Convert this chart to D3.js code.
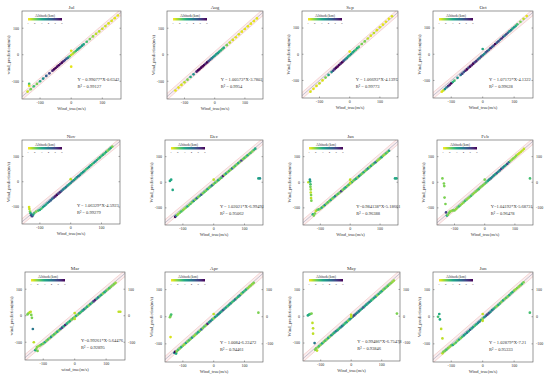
<!DOCTYPE html>
<html>
<head>
<meta charset="utf-8">
<script src="https://cdn.jsdelivr.net/npm/d3@7"></script>
<style>
body { margin: 0; background: #fff; }
text { font-family: "Liberation Serif", "DejaVu Serif", serif; fill: #333; }
</style>
</head>
<body>
<div id="chart"></div>
<script>
// panel names, fit texts
var months = ["Jul", "Aug", "Sep", "Oct", "Nov", "Dec", "Jan", "Feb", "Mar", "Apr", "May", "Jun"];
var fitLabels = ["Y = 0.99077*X-0.6342", "Y = 1.00573*X-3.7802", "Y = 1.06693*X-4.1397", "Y = 1.07172*X-4.1322",
                 "Y = 1.06329*X-4.5923", "Y = 1.02021*X-6.99491", "Y=0.984138*X-5.18661", "Y=1.04192*X-5.68731",
                 "Y=0.99261*X-5.64476", "Y = 1.0084-6.22472", "Y = 0.99486*X-6.75478", "Y = 1.02879*X-7.21"];
var r2Labels = ["R\u00b2 = 0.99127", "R\u00b2 = 0.9954", "R\u00b2 = 0.99773", "R\u00b2 = 0.99628",
                "R\u00b2 = 0.99279", "R\u00b2 = 0.95062", "R\u00b2 = 0.96388", "R\u00b2 = 0.96478",
                "R\u00b2 = 0.92895", "R\u00b2 = 0.94461", "R\u00b2 = 0.93846", "R\u00b2 = 0.95333"];
var xLabels = ["Wind_true(m/s)", "Wind_true(m/s)", "Wind_true(m/s)", "Wind_true(m/s)",
               "Wind_true(m/s)", "Wind_true(m/s)", "Wind_true(m/s)", "Wind_true(m/s)",
               "wind_true(m/s)", "Wind_true(m/s)", "Wind_true(m/s)", "Wind_true(m/s)"];
var yLabels = ["wind_prediction(m/s)", "Wind_prediction(m/s)", "Wind_prediction(m/s)", "Wind_prediction(m/s)",
               "Wind_prediction(m/s)", "Wind_prediction(m/s)", "Wind_prediction(m/s)", "Wind_prediction(m/s)",
               "wind_prediction(m/s)", "Wind_prediction(m/s)", "Wind_prediction(m/s)", "Wind_prediction(m/s)"];
var axisTicks = [-100, 0, 100];
var altTicks = [1, 2, 3, 4, 5, 6];
var altLabel = "Altitude(km)";

// [true, predicted, altitude km]
var julPoints = [[-140,-139,1.4],[-130,-130,2],[-120,-119,2.5],[-110,-110,2],[-100,-100,3],[-90,-90,3.5],[-80,-80,4.5],[-70,-70,5],[-60,-60,5.5],[-55,-55,6],[-50,-50,6],[-45,-45,5.8],[-40,-40,6],[-35,-35,5.5],[-30,-30,6],[-25,-25,5.5],[-20,-20,5],[-15,-15,4.5],[-10,-11,4],[-5,-6,2.5],[0,-1,1.5],[5,4,1.5],[10,9,2],[15,14,2.5],[20,19,3],[25,24,3.5],[30,29,3],[35,34,3.5],[40,39,3],[50,49,2.5],[60,59,2],[70,69,1.8],[80,79,1.5],[90,88,1.5],[100,98,1.4],[110,108,1.4],[120,118,1.3],[130,128,1.3],[140,138,1.2],[150,148,1.2],
  [-135,-110,2.5],[-135,-117,1.2],[0,15,1.2],[0,-45,1.2]];
var augPoints = [[-130,-135,1.2],[-120,-124,1.2],[-110,-114,1.3],[-100,-104,1.5],[-90,-94,2],[-80,-84,3],[-70,-74,3.5],[-60,-64,5.5],[-55,-59,6],[-50,-54,6],[-45,-49,6],[-40,-44,6],[-35,-39,6],[-30,-34,5.5],[-25,-29,6],[-20,-24,5],[-15,-19,4.5],[-10,-14,4],[-5,-9,3.5],[0,-4,3.5],[5,1,3],[10,6,3.5],[15,11,3],[20,16,3],[25,21,2.5],[30,26,3],[40,36,2],[50,46,1.5],[60,56,1.3],[70,66,1.2],[80,77,1.3],[90,87,1.2],[100,97,1.2],[110,107,1.2],[120,117,1.2],[130,127,1.2],[140,137,1.2]];
var sepPoints = [[-130,-143,1.3],[-120,-132,1.2],[-110,-121,1.3],[-100,-111,1.5],[-90,-100,1.3],[-80,-89,2],[-70,-79,3],[-60,-68,3.5],[-55,-63,5],[-50,-57,5.5],[-45,-52,6],[-40,-47,6],[-35,-41,6],[-30,-36,5.5],[-25,-31,6],[-20,-25,5],[-15,-20,4],[-10,-15,3.5],[-5,-9,3],[0,-4,3],[5,1,3.5],[10,7,3],[15,12,3],[20,17,2.5],[25,23,3],[30,28,2.5],[40,39,2],[50,49,2],[60,60,1.5],[70,71,1.3],[80,81,1.5],[90,92,1.3],[100,103,1.3],[110,113,1.2],[120,124,1.2],[130,135,1.2],[140,145,1.3],
  [0,10,1.2]];
var octPoints = [[-130,-143,1.2],[-125,-138,1.5],[-120,-133,3.5],[-115,-127,4],[-110,-122,5],[-105,-117,5.5],[-100,-111,6],[-95,-106,3],[-90,-101,2.5],[-80,-90,3.5],[-70,-79,4],[-65,-74,5],[-60,-68,4.5],[-55,-63,5.5],[-50,-58,6],[-45,-52,5],[-40,-47,6],[-35,-42,5.5],[-30,-36,6],[-25,-31,5],[-20,-26,5.5],[-15,-20,4.5],[-10,-15,4],[-5,-9,5],[0,-4,4],[5,1,3.5],[10,7,4.5],[15,12,5],[20,17,4],[25,23,5.5],[30,28,4.5],[35,33,5],[40,39,6],[45,44,4.5],[50,49,5],[55,55,4],[60,60,5.5],[65,66,5],[70,71,4],[75,76,5],[80,82,4.5],[85,87,3.5],[90,92,4],[95,98,3],[100,103,3.5],[105,108,3],[110,114,2.5],[120,124,2],[130,135,1.5],[140,146,1.2],
  [0,20,3]];
var novPoints = [[-135,-100,1.3],[-134,-108,1.5],[-132,-118,2],[-130,-125,3],[-128,-132,4.5],[-125,-136,5],[-122,-130,3.5],[-118,-124,2.5],[-112,-118,2],
  [-105,-114,2.5],[-100,-111,3],[-95,-106,2.5],[-90,-100,3],[-85,-95,3.5],[-80,-90,3],[-75,-84,3.5],[-70,-79,4],[-65,-74,4.5],[-60,-68,4],[-55,-63,5],[-50,-58,5.5],[-45,-52,6],[-40,-47,5],[-35,-42,5.5],[-30,-37,4.5],[-25,-31,4],[-20,-26,3.5],[-15,-21,4],[-10,-15,3.5],[-5,-10,3],[0,-5,3.5],[5,1,4],[10,6,3.5],[15,11,3],[20,17,3.5],[25,22,4],[30,27,3.5],[35,33,3],[40,38,3.5],[45,43,3],[50,49,2.5],[55,54,3],[60,59,3.5],[65,65,3],[70,70,2.5],[75,75,3],[80,80,3.5],[85,86,3],[90,91,2.5],[95,96,3],[100,102,2.5],[105,107,3],[110,112,2.5],[115,118,3],[120,123,2],[125,128,2.5],[130,134,3],[135,139,2],
  [0,10,1.5]];
var decPoints = [[-125,-135,6],[-122,-131,4],[-118,-128,2],[-115,-124,1.8],[-110,-119,2],[-105,-114,2.5],[-100,-109,2],[-95,-104,1.8],[-90,-99,2],[-85,-94,3],[-80,-89,2],[-75,-84,2.5],[-70,-78,2],[-65,-73,3.5],[-60,-68,2],[-55,-63,4],[-50,-58,2],[-45,-53,2.5],[-40,-48,4.5],[-35,-43,2],[-30,-38,2.5],[-25,-33,2],[-20,-27,3],[-15,-22,2],[-10,-17,2.5],[-5,-12,4],[0,-7,2],[5,-2,2.5],[10,3,2],[15,8,3],[20,13,2],[25,18,2.5],[30,24,5.5],[35,29,2],[40,34,3],[45,39,2],[50,44,2.5],[55,49,2],[60,54,4],[65,59,2],[70,64,2.5],[75,70,2],[80,75,3],[85,80,2],[90,85,5],[95,90,2],[100,95,2.5],[105,100,2],[110,105,3],[115,110,2],[120,115,2.5],[125,120,2],[130,126,2.5],[135,131,3],
  [-142,5,3],[-138,10,3],[-133,-30,3],[145,15,3],[150,15,3.5],[0,10,1.5]];
var janPoints = [[-125,-125,3],[-122,-130,2],[-118,-122,2],[-115,-112,1.5],[-110,-108,2],[-105,-106,2.5],[-100,-104,2],[-95,-99,3],[-90,-94,2],[-85,-89,3.5],[-80,-84,2],[-75,-79,2.5],[-70,-74,2],[-65,-69,3],[-60,-64,2],[-55,-59,2.5],[-50,-54,4],[-45,-49,2],[-40,-45,2.5],[-35,-40,2],[-30,-35,5],[-25,-30,2],[-20,-25,2.5],[-15,-20,3],[-10,-15,2],[-5,-10,2.5],[0,-5,2],[5,0,3],[10,5,2],[15,10,2.5],[20,14,3],[25,19,2],[30,24,3.5],[35,29,2.5],[40,34,2],[45,39,3],[50,44,2],[55,49,2.5],[60,54,3.5],[65,59,2],[70,64,3],[75,69,2],[80,74,2.5],[85,78,4],[90,83,2],[95,88,1.8],[100,93,2],[105,98,3],[110,103,2],[115,108,1.8],[120,113,2.5],[125,118,2],[130,123,3],
  [-140,0,1.5],[-135,10,3.5],[-134,3,3],[-133,-8,2.5],[-133,-18,2],[-132,-28,1.8],[-132,-40,1.5],[-131,-50,2],[-131,-62,1.5],[-130,-72,2],[150,15,3],[155,15,3],[0,10,1.5],[0,-2,1.5]];
var febPoints = [[-128,-118,5],[-125,-130,3],[-122,-127,2],[-118,-120,2],[-115,-115,2],[-110,-112,1.8],[-105,-110,2],[-100,-110,2],[-95,-105,1.8],[-90,-99,2],[-85,-94,2.5],[-80,-89,2],[-75,-84,1.8],[-70,-79,2],[-65,-73,2.5],[-60,-68,2],[-55,-63,1.8],[-50,-58,2],[-45,-53,2.5],[-40,-47,2],[-35,-42,1.8],[-30,-37,2],[-25,-32,2],[-20,-27,2.5],[-15,-21,2],[-10,-16,2],[-5,-11,2],[0,-6,2],[5,-1,2.5],[10,5,3],[15,10,3.5],[20,15,4],[25,20,3.5],[30,26,4],[35,31,3],[40,36,4.5],[45,41,3.5],[50,46,4],[55,52,5],[60,57,3.5],[65,62,4],[70,67,3],[75,72,5],[80,78,4],[85,83,2],[90,88,1.8],[95,93,2],[100,98,1.8],[105,104,2],[110,109,1.5],[115,114,1.5],[120,119,1.5],[125,124,1.5],[130,130,1.5],
  [-140,15,2],[-135,-5,2],[-134,-15,2],[-133,-60,2],[-130,-85,2],[150,15,2.5],[0,10,2]];
var marPoints = [[-125,-130,3],[-122,-125,2],[-120,-118,2],[-118,-133,2],[-115,-115,1.8],[-110,-112,2],[-105,-108,2.5],[-100,-105,2],[-95,-100,3],[-90,-95,2],[-85,-90,2.5],[-80,-85,2],[-75,-80,3.5],[-70,-75,2],[-65,-70,2.5],[-60,-65,2],[-55,-60,3],[-50,-55,2],[-45,-50,4],[-40,-45,5],[-35,-40,3],[-30,-35,5.5],[-25,-30,3],[-20,-25,2.5],[-15,-20,3],[-10,-15,2],[-5,-10,2.5],[0,-5,2],[5,0,3],[10,4,2],[15,9,3],[20,14,2.5],[25,19,3],[30,24,4],[35,29,2.5],[40,34,3],[45,39,2],[50,44,3.5],[55,49,2.5],[60,54,5],[65,59,5.5],[70,64,3],[75,69,4],[80,74,2.5],[85,79,3],[90,84,2],[95,89,3],[100,94,2.5],[105,99,2],[110,104,2.5],[115,109,2],[120,114,2],[125,119,2],[130,124,1.8],
  [-150,5,2],[-147,9,2],[-143,13,1.5],[-140,15,1.5],[-138,3,2],[-136,-8,2],[-133,-50,4],[-130,-100,1.5],[140,15,1.5],[145,15,1.5],[0,10,1.5],[0,-12,1.5]];
var aprPoints = [[-128,-133,4],[-125,-130,6],[-122,-136,3],[-120,-128,2],[-115,-122,2.5],[-110,-117,2],[-105,-112,3],[-100,-107,2],[-95,-102,1.8],[-90,-97,3],[-85,-92,2],[-80,-87,2.5],[-75,-82,2],[-70,-77,3.5],[-65,-72,2],[-60,-67,1.8],[-55,-62,2.5],[-50,-57,3],[-45,-52,2],[-40,-47,4],[-35,-42,2],[-30,-36,2.5],[-25,-31,2],[-20,-26,5.5],[-15,-21,3],[-10,-16,4],[-5,-11,3],[0,-6,2],[5,-1,3.5],[10,4,3],[15,9,4],[20,14,3.5],[25,19,3],[30,24,4.5],[35,29,3],[40,34,3.5],[45,39,2.5],[50,44,3],[55,49,3.5],[60,54,2.5],[65,59,3],[70,64,4],[75,69,2.5],[80,74,3],[85,79,3.5],[90,85,2],[95,90,3],[100,95,2.5],[105,100,3],[110,105,2],[115,110,1.8],[120,115,2],[125,120,1.8],[130,125,2],
  [-142,-2,2],[-140,3,2],[-138,8,2.5],[-140,-75,1.3],[145,15,2],[0,10,1.5]];
var mayPoints = [[-115,-120,2],[-112,-128,1.5],[-108,-115,2],[-105,-111,2.5],[-100,-106,2],[-95,-101,3],[-90,-96,2],[-85,-91,2.5],[-80,-86,2],[-75,-81,3],[-70,-76,2],[-65,-71,3.5],[-60,-66,2.5],[-55,-61,3],[-50,-56,4],[-45,-52,3],[-40,-47,2.5],[-35,-42,3.5],[-30,-37,4],[-25,-32,3],[-20,-27,2.5],[-15,-22,3],[-10,-17,2],[-5,-12,3],[0,-7,3.5],[5,-2,4],[10,3,5],[15,8,4],[20,13,3.5],[25,18,4],[30,23,3],[35,28,3.5],[40,33,4.5],[45,38,3],[50,43,3.5],[55,48,3],[60,53,4],[65,58,3],[70,63,2.5],[75,68,3],[80,73,3.5],[85,78,2],[90,83,3],[95,88,2.5],[100,93,3],[105,98,2],[110,103,2.5],[115,108,2],[120,113,2.5],[125,118,2],[130,123,2],[135,128,1.8],[140,133,1.8],
  [-142,3,3],[-138,6,3],[-135,8,2.5],[-130,10,2],[-127,-25,1.5],[-125,-45,1.5],[-125,-65,1.5],[-120,-100,4],[-118,-125,2],[150,10,2],[0,5,1.5],[0,-2,1.5]];
var junPoints = [[-128,-135,1.5],[-125,-130,2],[-120,-126,2],[-115,-121,2.5],[-110,-116,2],[-105,-111,1.8],[-100,-106,2],[-95,-104,3],[-90,-100,2],[-85,-95,2.5],[-80,-89,2],[-75,-84,3],[-70,-79,2],[-65,-74,2.5],[-60,-69,3.5],[-55,-64,3],[-50,-59,4],[-45,-54,3],[-40,-48,4.5],[-35,-43,3],[-30,-38,3.5],[-25,-33,2.5],[-20,-28,3],[-15,-23,3.5],[-10,-18,4],[-5,-12,3],[0,-7,2],[5,-2,3.5],[10,3,4],[15,8,5],[20,13,4.5],[25,18,3.5],[30,24,4],[35,29,3],[40,34,2.5],[45,39,2],[50,44,3],[55,49,2.5],[60,55,2],[65,60,3],[70,65,2],[75,70,2.5],[80,75,2],[85,80,3],[90,86,2.5],[95,91,3],[100,96,2],[105,101,1.8],[110,106,2],[115,111,1.8],[120,116,2],[125,121,2.5],[130,127,2],
  [-142,0,2.5],[-138,10,3],[-136,-10,3],[-132,-45,1.5],[-128,-80,1.5],[150,15,2.5],[0,10,1.5],[0,-15,1.5]];

var panelPoints = [julPoints, augPoints, sepPoints, octPoints, novPoints, decPoints,
                   janPoints, febPoints, marPoints, aprPoints, mayPoints, junPoints];

// panel frames: left, top, width, height
var frames = [[22,11,99,88],[167,11,96,88],[302,11,96,87],[433,11,100,87],
              [22,140,98,84],[165,140,98,85],[303,140,95,85],[437,140,96,85],
              [25,272,100,88],[165,272,98,90],[303,272,97,89],[433,272,100,90]];
var rightAxis = [false,false,false,false, false,false,false,true, true,true,true,true];

var W = 550, H = 380;
var svg = d3.select("#chart").append("svg")
    .attr("width", W).attr("height", H);

var color = d3.scaleSequential(function (t) { return d3.interpolateViridis(1 - t); })
    .domain([1, 6]);

var grad = svg.append("defs").append("linearGradient").attr("id", "altgrad");
d3.range(0, 1.01, 0.1).forEach(function (t) {
  grad.append("stop").attr("offset", t).attr("stop-color", color(1 + 5 * t));
});

months.forEach(function (m, i) {
  var f = frames[i], w = f[2], h = f[3];
  var g = svg.append("g").attr("transform", "translate(" + f[0] + "," + f[1] + ")");

  var x = d3.scaleLinear().domain([-158, 160]).range([0, w]);
  var y = d3.scaleLinear().domain([-167, 165]).range([h, 0]);

  var clipId = "clip" + i;
  g.append("clipPath").attr("id", clipId)
   .append("rect").attr("width", w).attr("height", h);
  var plot = g.append("g").attr("clip-path", "url(#" + clipId + ")");

  // reference band around y = x
  var band = [-170, 170];
  plot.append("path")
      .attr("d", "M" + x(band[0]) + "," + y(band[0] + 12) + "L" + x(band[1]) + "," + y(band[1] + 12) +
                 "L" + x(band[1]) + "," + y(band[1] - 12) + "L" + x(band[0]) + "," + y(band[0] - 12) + "Z")
      .attr("fill", "#f6dede").attr("opacity", 0.5);
  [-12, 12].forEach(function (o) {
    plot.append("line")
        .attr("x1", x(band[0])).attr("y1", y(band[0] + o))
        .attr("x2", x(band[1])).attr("y2", y(band[1] + o))
        .attr("stroke", "#eeb4b4").attr("stroke-width", 0.5);
  });
  plot.append("line")
      .attr("x1", x(band[0])).attr("y1", y(band[0]))
      .attr("x2", x(band[1])).attr("y2", y(band[1]))
      .attr("stroke", "#b9b3c6").attr("stroke-width", 0.8);

  plot.selectAll("circle").data(panelPoints[i]).enter().append("circle")
      .attr("cx", function (d) { return x(d[0]); })
      .attr("cy", function (d) { return y(d[1]); })
      .attr("r", 1.35)
      .attr("fill", function (d) { return color(d[2]); });

  // box
  g.append("rect").attr("width", w).attr("height", h)
   .attr("fill", "none").attr("stroke", "#555").attr("stroke-width", 0.6);

  // ticks
  axisTicks.forEach(function (t) {
    g.append("line").attr("x1", x(t)).attr("x2", x(t)).attr("y1", h).attr("y2", h - 1.5)
     .attr("stroke", "#555").attr("stroke-width", 0.5);
    g.append("line").attr("x1", 0).attr("x2", 1.5).attr("y1", y(t)).attr("y2", y(t))
     .attr("stroke", "#555").attr("stroke-width", 0.5);
    g.append("line").attr("x1", w).attr("x2", w - 1.5).attr("y1", y(t)).attr("y2", y(t))
     .attr("stroke", "#555").attr("stroke-width", 0.5);
    g.append("text").attr("x", x(t)).attr("y", h + 5).attr("text-anchor", "middle")
     .attr("font-size", 4).text(t);
    g.append("text").attr("x", -3).attr("y", y(t) + 1.4).attr("text-anchor", "end")
     .attr("font-size", 4).text(t);
    if (rightAxis[i]) {
      g.append("text").attr("x", w + 3).attr("y", y(t) + 1.4).attr("text-anchor", "start")
       .attr("font-size", 4).text(t);
    }
  });

  g.append("text").attr("x", w / 2).attr("y", -2.5).attr("text-anchor", "middle")
   .attr("font-size", 5).text(m);
  g.append("text").attr("x", w / 2).attr("y", h + 11).attr("text-anchor", "middle")
   .attr("font-size", 4.5).text(xLabels[i]);
  g.append("text").attr("transform", "translate(-12," + (h / 2) + ") rotate(-90)")
   .attr("text-anchor", "middle").attr("font-size", 4.5).text(yLabels[i]);

  g.append("text").attr("x", w * 0.56).attr("y", h * 0.8).attr("font-size", 4.5).text(fitLabels[i]);
  g.append("text").attr("x", w * 0.56).attr("y", h * 0.88).attr("font-size", 4.5).text(r2Labels[i]);

  // altitude colour bar
  var cb = d3.scaleLinear().domain([1, 6]).range([6, 40]);
  g.append("text").attr("x", 23).attr("y", 5.5).attr("text-anchor", "middle")
   .attr("font-size", 3.8).text(altLabel);
  g.append("rect").attr("x", cb(1)).attr("y", 7).attr("width", cb(6) - cb(1)).attr("height", 2.5)
   .attr("fill", "url(#altgrad)");
  altTicks.forEach(function (t) {
    g.append("text").attr("x", cb(t)).attr("y", 12.5).attr("text-anchor", "middle")
     .attr("font-size", 2.8).text(t);
  });
});
</script>
</body>
</html>
